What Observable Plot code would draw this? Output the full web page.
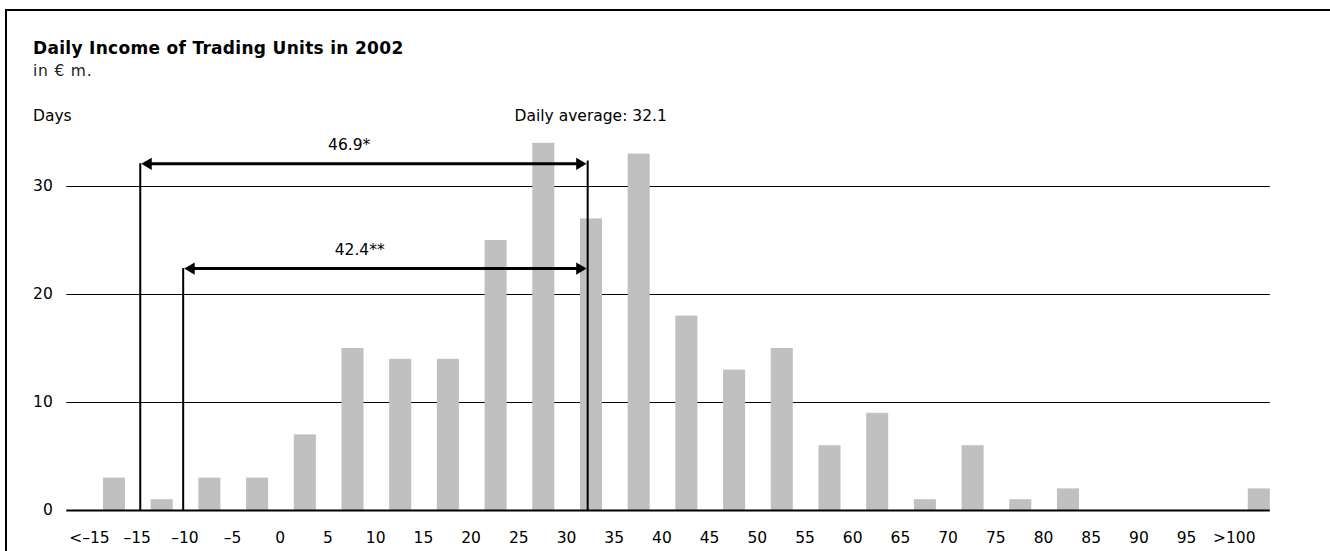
<!DOCTYPE html>
<html>
<head>
<meta charset="utf-8">
<script src="https://cdn.jsdelivr.net/npm/d3@7"></script>
<script src="https://cdn.jsdelivr.net/npm/@observablehq/plot@0.6"></script>
<style>
  html, body { margin: 0; padding: 0; background: #fff; }
  body { width: 1330px; height: 551px; overflow: hidden; position: relative; font-family: "DejaVu Sans", sans-serif; color: #000; }
  #frame { position: absolute; left: 5px; top: 9px; width: 1400px; height: 700px; border-left: 2px solid #000; border-top: 2px solid #000; }
  .t { position: absolute; left: 33px; line-height: 1; white-space: nowrap; }
  #title { top: 40px; font-size: 17px; font-weight: bold; letter-spacing: 0.3px; }
  #subtitle { top: 64px; font-size: 15.5px; color: #222; letter-spacing: 0.8px; }
  #days { top: 109px; font-size: 15.5px; }
  #chart { position: absolute; left: 0; top: 95px; }
</style>
</head>
<body>
<div id="frame"></div>
<div class="t" id="title">Daily Income of Trading Units in 2002</div>
<div class="t" id="subtitle">in € m.</div>
<div class="t" id="days">Days</div>
<div id="chart"></div>
<script>
// Bins (tick labels), one per bar
const binLabels = ["<–15", "–15", "–10", "–5", "0", "5", "10", "15", "20", "25", "30", "35", "40", "45", "50", "55", "60", "65", "70", "75", "80", "85", "90", "95", ">100"];
// Number of days in each bin
const days = [3, 1, 3, 3, 7, 15, 14, 14, 25, 34, 27, 33, 18, 13, 15, 6, 9, 1, 6, 1, 2, 0, 0, 0, 2];
// Y axis ticks
const yTicks = [0, 10, 20, 30];
// Annotations
const dailyAverage = 32.1;
const spreads = [
  {label: "46.9*", value: 46.9, arrowY: 32.1, labelY: 33.85, labelX: 7.1},
  {label: "42.4**", value: 42.4, arrowY: 22.4, labelY: 24.15, labelX: 8.2}
];

const valueToIdx = v => (v + 20) / 5 - 0.5; // bin value -> bar index position
const hw = 0.231; // half bar width in band units

const bars = days.map((d, i) => ({i, days: d})).filter(d => d.days > 0);
const arrows = spreads.map(s => ({...s, lo: dailyAverage - s.value, hi: dailyAverage}));
const FS = 15.5;

const chart = Plot.plot({
  width: 1330,
  height: 456,
  marginLeft: 66.3,
  marginRight: 60.2,
  marginTop: 37,
  marginBottom: 41,
  x: {type: "linear", domain: [-1, 24 + hw]},
  y: {domain: [0, 35]},
  style: {fontFamily: "DejaVu Sans, sans-serif", fontSize: FS + "px", color: "#000", background: "transparent", overflow: "visible"},
  marks: [
    Plot.ruleY(yTicks.filter(t => t > 0), {stroke: "#000", strokeWidth: 1}),
    Plot.rect(bars, {x1: d => d.i - hw, x2: d => d.i + hw, y1: 0, y2: "days", fill: "#c0c0c0"}),
    Plot.ruleY([0], {stroke: "#000", strokeWidth: 2}),
    Plot.axisY({ticks: yTicks, tickSize: 0, tickPadding: 14, label: null, fontSize: FS}),
    Plot.axisX({ticks: d3.range(binLabels.length), tickFormat: i => binLabels[i], tickSize: 0, tickPadding: 21, dx: -25, label: null, fontSize: FS}),
    // vertical reference lines
    Plot.ruleX(arrows, {x: d => valueToIdx(d.lo), y1: 0, y2: "arrowY", stroke: "#000", strokeWidth: 2}),
    Plot.ruleX([dailyAverage], {x: d => valueToIdx(d), y1: 0, y2: 32.35, stroke: "#000", strokeWidth: 2}),
    // double-headed arrows
    Plot.ruleY(arrows, {y: "arrowY", x1: d => valueToIdx(d.lo), x2: d => valueToIdx(d.hi), stroke: "#000", strokeWidth: 3, insetLeft: 8, insetRight: 8}),
    Plot.dot(arrows, {x: d => valueToIdx(d.lo), y: "arrowY", symbol: "triangle", rotate: -90, r: 4.5, fill: "#000", stroke: null, dx: 8}),
    Plot.dot(arrows, {x: d => valueToIdx(d.hi), y: "arrowY", symbol: "triangle", rotate: 90, r: 4.5, fill: "#000", stroke: null, dx: -8}),
    Plot.text(arrows, {x: d => valueToIdx(d.labelX), y: "labelY", text: "label", textAnchor: "middle", lineAnchor: "middle", fontSize: FS}),
    Plot.text([dailyAverage], {x: d => valueToIdx(d), y: 36.55, dx: 3, text: d => `Daily average: ${d}`, textAnchor: "middle", lineAnchor: "middle", fontSize: FS})
  ]
});
document.getElementById("chart").appendChild(chart);
</script>
</body>
</html>
